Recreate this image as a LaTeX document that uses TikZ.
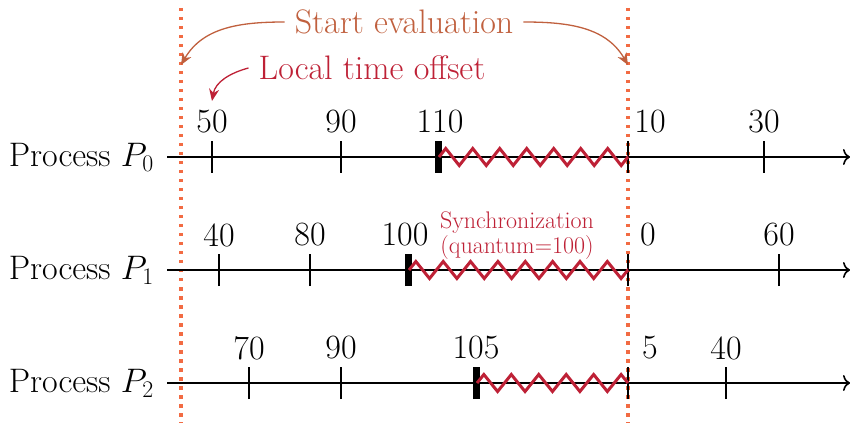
\RequirePackage{fix-cm}
\documentclass[tikz,border=0pt]{standalone}
\usepackage{fontspec}
\usetikzlibrary{arrows.meta,decorations.pathmorphing}
\definecolor{dotc}{HTML}{F26B43}
\definecolor{evalc}{HTML}{C0603E}
\definecolor{syncc}{HTML}{BE2136}
\tikzset{
  axisline/.style={line width=2pt,-{To[length=7pt,width=16pt,line width=1.6pt]}},
  tickmark/.style={line width=2.4pt},
  thickbar/.style={line width=7pt},
  zzline/.style={syncc,line width=3pt,line join=miter},
  zz/.style={zzline,decorate,decoration={zigzag,amplitude=8.5pt,segment length=#1}},
  vline/.style={dotc,line width=3.5pt,dash pattern=on 3.5pt off 5.5pt},
  lbl/.style={font=\fontsize{34}{40}\selectfont,inner sep=0pt},
  evarrow/.style={evalc,line width=1.3pt,-{Stealth[length=12pt,width=10pt]}},
  locarrow/.style={syncc,line width=1.3pt,-{Stealth[length=12pt,width=10pt]}}
}
\begin{document}
\begin{tikzpicture}[x=1pt,y=1pt]
\useasboundingbox (0,0) rectangle (850,423);
% dotted vertical lines
\coordinate (vlA) at (181,415); \coordinate (vlB) at (181,0);
\coordinate (vrA) at (628,415); \coordinate (vrB) at (628,0);
\draw[vline] (vlA) -- (vlB);
\draw[vline] (vrA) -- (vrB);
% titles
\node[lbl,text=evalc] (eval) at (404,401) {Start evaluation};
\node[lbl,text=syncc] (loc) at (372,355) {Local time offset};
\coordinate (evL) at (181,358);
\coordinate (evR) at (628,358);
\coordinate (locT) at (212,322);
\draw[evarrow] ([xshift=-10pt]eval.west) to[out=180,in=60] (evL);
\draw[evarrow] ([xshift=10pt]eval.east) to[out=0,in=120] (evR);
\draw[locarrow] ([xshift=-10pt]loc.west) to[out=195,in=80] (locT);
% Process P0 (y=266)
\node[lbl,anchor=east] (p0) at (154,266) {Process $P_0$};
\coordinate (a0s) at (167,266); \coordinate (a0e) at (850,266);
\draw[axisline] (a0s) -- (a0e);
\foreach \x/\t in {212/50,341/90}{
  \draw[tickmark] (\x,250) -- (\x,282);
  \node[lbl] at (\x,301) {\t};}
\draw[tickmark] (764,250) -- (764,282); \node[lbl] at (764,301) {30};
\draw[tickmark] (628,250) -- (628,282); \node[lbl] at (650,301) {10};
\coordinate (z0s) at (439,266); \coordinate (z0e) at (628,266);
\draw[thickbar] (438,250) -- (438,282); \node[lbl] at (440,301) {110};
\draw[zz=26.99pt] (z0s) -- (z0e);
% Process P1 (y=153)
\node[lbl,anchor=east] (p1) at (154,153) {Process $P_1$};
\coordinate (a1s) at (409,153); \coordinate (a1e) at (850,153);
\draw[axisline] (167,153) -- (a1e);
\foreach \x/\t in {219/40,310/80,779/60}{
  \draw[tickmark] (\x,137) -- (\x,169);
  \node[lbl] at (\x,188) {\t};}
\draw[tickmark] (628,137) -- (628,169); \node[lbl] at (648,188) {0};
\coordinate (z1e) at (628,153);
\draw[thickbar] (408,137) -- (408,169); \node[lbl] at (405,188) {100};
\draw[zz=27.36pt] (a1s) -- (z1e);
\node[text=syncc,font=\fontsize{24}{25}\selectfont,align=center,inner sep=0pt] (sync) at (517,187) {Synchronization\\(quantum=100)};
% Process P2 (y=40)
\node[lbl,anchor=east] (p2) at (154,40) {Process $P_2$};
\coordinate (a2s) at (167,40); \coordinate (a2e) at (850,40);
\draw[axisline] (a2s) -- (a2e);
\foreach \x/\t in {249/70,341/90,726/40}{
  \draw[tickmark] (\x,24) -- (\x,56);
  \node[lbl] at (\x,75) {\t};}
\draw[tickmark] (628,24) -- (628,56); \node[lbl] at (650,75) {5};
\coordinate (z2s) at (477,40); \coordinate (z2m) at (614.2,40); \coordinate (z2p) at (621.1,48.5); \coordinate (z2e) at (628,40);
\draw[thickbar] (476,24) -- (476,56); \node[lbl] at (476,75) {105};
\draw[zzline] (z2s) decorate[decoration={zigzag,amplitude=8.5pt,segment length=27.44pt}]{-- (z2m)} -- (z2p) -- (z2e);
\end{tikzpicture}
\end{document}
